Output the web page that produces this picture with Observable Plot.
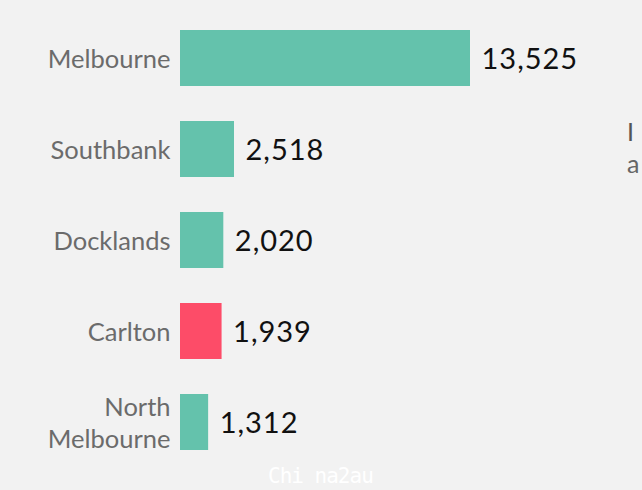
<!DOCTYPE html>
<html><head><meta charset="utf-8">
<script src="https://cdn.jsdelivr.net/npm/d3@7"></script>
<script src="https://cdn.jsdelivr.net/npm/@observablehq/plot@0.6"></script>
<style>
html,body{margin:0;padding:0;background:#f2f2f2;overflow:hidden;width:642px;height:490px;}
#wrap{position:relative;width:642px;height:490px;}
.side{position:absolute;left:627px;font-family:Lato,"Noto Sans",sans-serif;font-size:25px;color:#666;white-space:nowrap;}
.wm{position:absolute;left:268px;top:464px;font-family:"DejaVu Sans Mono",monospace;font-size:21px;color:#ffffff;letter-spacing:-1px;}
</style></head>
<body><div id="wrap"></div>
<script>
const suburbs = ["Melbourne", "Southbank", "Docklands", "Carlton", "North\nMelbourne"];
const counts = [13525, 2518, 2020, 1939, 1312];
const highlight = ["no", "no", "no", "yes", "no"];
const data = suburbs.map((s, i) => ({suburb: s, count: counts[i], hl: highlight[i]}));

const chart = Plot.plot({
  width: 642,
  height: 490,
  marginLeft: 180,
  marginRight: 172,
  marginTop: 30,
  marginBottom: 40,
  style: {background: "#f2f2f2", fontFamily: "Lato, 'Noto Sans', sans-serif"},
  x: {domain: [0, 13525], axis: null},
  y: {domain: suburbs, paddingInner: 0.385, paddingOuter: 0, label: null},
  color: {domain: ["no", "yes"], range: ["#64c2ac", "#fd4c68"]},
  marks: [
    Plot.barX(data, {y: "suburb", x: "count", fill: "hl"}),
    Plot.axisY({tickSize: 0, tickPadding: 10, fontSize: 25.5, color: "#6b6b6b", label: null, lineHeight: 1.27, dy: -1}),
    Plot.text(data, {y: "suburb", x: "count", text: d => d3.format(",")(d.count), textAnchor: "start", dx: 11, dy: 1, fontSize: 29, fill: "#111", style: "letter-spacing:1px"})
  ]
});
chart.querySelectorAll("text").forEach(t => { if (/^[\d,]+$/.test(t.textContent)) t.style.letterSpacing = "1px"; });
const wrap = document.getElementById("wrap");
wrap.appendChild(chart);
const s1 = document.createElement("div"); s1.className = "side"; s1.style.top = "116px"; s1.style.color = "#555"; s1.textContent = "I"; wrap.appendChild(s1);
const s2 = document.createElement("div"); s2.className = "side"; s2.style.top = "148px"; s2.textContent = "a"; wrap.appendChild(s2);
const wm = document.createElement("div"); wm.className = "wm"; wm.textContent = "Chi na2au"; wrap.appendChild(wm);
</script>
</body></html>
